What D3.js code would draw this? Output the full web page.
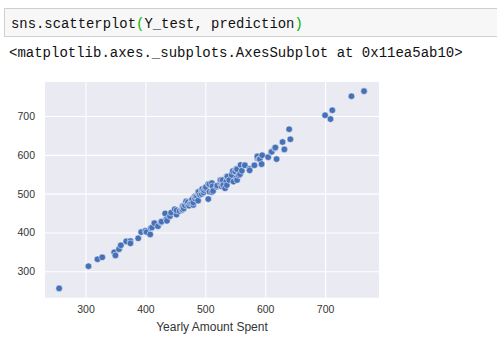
<!DOCTYPE html>
<html>
<head>
<meta charset="utf-8">
<script src="https://cdn.jsdelivr.net/npm/d3@7"></script>
<style>
  html, body { margin: 0; padding: 0; background: #fff; }
  svg { display: block; }
</style>
</head>
<body>
<svg id="chart" width="497" height="341"></svg>
<script>
// Y_test (actual yearly amount spent) vs prediction
const yTest = [256,305,320,328,348,350,356,359,368,375,375,388,393,400,402,408,409,411,415,421,426,427,433,435,436,441,443,449,452,452,457,461,462,462,463,464,466,468,470,471,473,475,477,478,480,480,482,483,484,486,488,488,488,489,491,494,494,495,497,498,500,501,505,505,507,507,511,511,512,513,519,520,525,525,526,527,529,529,530,533,535,536,536,537,540,544,546,547,550,552,552,553,553,556,558,559,561,566,566,574,574,582,587,587,590,591,594,595,605,610,611,616,617,619,629,632,640,642,700,709,712,744,765];
const prediction = [256,313,331,336,349,341,357,367,377,378,372,385,401,404,401,395,411,413,424,416,426,428,449,434,430,442,451,460,446,457,455,457,459,468,466,462,470,480,473,478,469,475,477,485,471,477,492,487,493,494,482,501,504,505,497,499,510,512,503,509,514,517,486,525,505,524,504,527,519,507,518,521,527,535,535,519,524,535,522,514,532,544,522,544,535,548,558,531,557,540,564,535,563,547,550,574,559,574,573,564,560,573,591,596,589,589,576,599,594,607,608,617,619,589,633,614,666,640,702,692,715,751,764];
const xTicks = [300,400,500,600,700];
const yTicks = [300,400,500,600,700];
const xLabel = "Yearly Amount Spent";
const codeText = "sns.scatterplot";
const codeArgs = "Y_test, prediction";
const outText = "<matplotlib.axes._subplots.AxesSubplot at 0x11ea5ab10>";

const svg = d3.select("#chart");

// Notebook code cell
svg.append("rect").attr("x", 4.5).attr("y", 8.5).attr("width", 500).attr("height", 28)
  .attr("fill", "#f7f7f7").attr("stroke", "#cfcfcf");
const code = svg.append("text").attr("x", 11).attr("y", 27.5)
  .attr("font-family", "Liberation Mono, Courier New, monospace").attr("font-size", 13.9).attr("fill", "#111");
code.append("tspan").text(codeText);
code.append("tspan").attr("fill", "#00b300").text("(");
code.append("tspan").text(codeArgs);
code.append("tspan").attr("fill", "#00b300").text(")");

svg.append("text").attr("x", 9).attr("y", 57)
  .attr("font-family", "Liberation Mono, Courier New, monospace").attr("font-size", 14).attr("fill", "#111")
  .text(outText);

// Plot area
const L = 45, R = 379, T = 82, B = 297.7;
const x = d3.scaleLinear().domain([232.4, 790]).range([L, R]);
const y = d3.scaleLinear().domain([232, 787.6]).range([B, T]);

svg.append("rect").attr("x", L).attr("y", T).attr("width", R - L).attr("height", B - T).attr("fill", "#eaeaf2");

// grid
const gx = svg.append("g").attr("transform", `translate(0,${B})`)
  .call(d3.axisBottom(x).tickValues(xTicks).tickSize(-(B - T)).tickPadding(8).tickFormat(d3.format("d")));
const gy = svg.append("g").attr("transform", `translate(${L},0)`)
  .call(d3.axisLeft(y).tickValues(yTicks).tickSize(-(R - L)).tickPadding(10).tickFormat(d3.format("d")));
[gx, gy].forEach(g => {
  g.select(".domain").remove();
  g.selectAll(".tick line").attr("stroke", "#ffffff").attr("stroke-width", 1.1);
  g.selectAll(".tick text").attr("fill", "#333333")
    .attr("font-family", "Liberation Sans, Arial, sans-serif").attr("font-size", 10.5);
});

// points
const pts = yTest.map((v, i) => [v, prediction[i]]);
svg.append("g").selectAll("circle").data(pts).join("circle")
  .attr("cx", d => x(d[0])).attr("cy", d => y(d[1])).attr("r", 3.3)
  .attr("fill", "#4670b8").attr("stroke", "#ffffff").attr("stroke-width", 0.5);

// x label
svg.append("text").attr("x", (L + R) / 2).attr("y", 330.5).attr("text-anchor", "middle")
  .attr("font-family", "Liberation Sans, Arial, sans-serif").attr("font-size", 12).attr("fill", "#333333")
  .text(xLabel);
</script>
</body>
</html>
